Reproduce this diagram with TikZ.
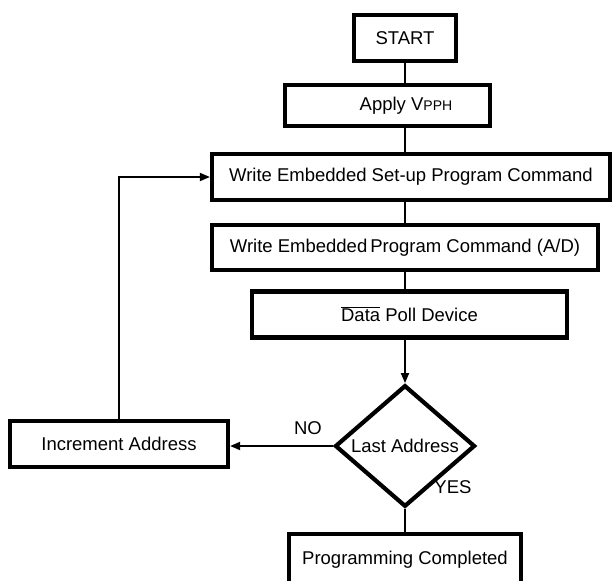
\documentclass[tikz,border=0pt]{standalone}
\usepackage{fontspec}
\setmainfont{Liberation Sans}
\usetikzlibrary{shapes.geometric,arrows.meta}
\begin{document}
\begin{tikzpicture}[x=1pt,y=-1pt,
  every node/.style={font=\fontsize{18.5}{21}\selectfont},
  stepbox/.style={draw,line width=4.2pt,rectangle,inner sep=0pt},
  decision/.style={draw,line width=4.2pt,diamond,inner sep=0pt,
    minimum width=140,minimum height=94},
  link/.style={line width=1.8pt},
  arr/.style={link,-{Triangle[length=10pt,width=8pt]}},
  tag/.style={inner sep=0pt}]
\useasboundingbox (0,0) rectangle (614,581);
\clip (0,0) rectangle (614,581);

% process boxes
\node[stepbox,minimum width=102,minimum height=46] (start) at (405,38) {START};
\node[stepbox,minimum width=205,minimum height=41] (apply) at (387.5,105.5) {};
\node[tag] (applytext) at (406,105.5) {Apply V{\fontsize{14}{16}\selectfont PPH}};
\node[stepbox,minimum width=398,minimum height=46] (setup) at (411,177)
  {Write Embedded Set-up Program Command};
\node[stepbox,minimum width=386,minimum height=45] (prog) at (405,247.5)
  {Write Embedded\,Program Command (A/D)};
\node[stepbox,minimum width=315,minimum height=46] (poll) at (409.5,314.5)
  {$\overline{\hbox{Data}}$ Poll Device};
\node[decision] (dec) at (405,446) {Last Address};
\node[stepbox,minimum width=218,minimum height=46] (inc) at (119,444)
  {Increment Address};
\node[stepbox,minimum width=232,minimum height=70] (done) at (405,569) {};
\node[tag] (donetext) at (405,560) {Programming Completed};

% labels on the decision branches
\node[tag] (no) at (308,428) {NO};
\node[tag] (yes) at (453,487) {YES};

% connectors down the main column
\draw[link] (start.south) -- (start.south |- apply.north);
\draw[link] (start.south |- apply.south) -- (start.south |- setup.north);
\draw[link] (start.south |- setup.south) -- (start.south |- prog.north);
\draw[link] (start.south |- prog.south) -- (start.south |- poll.north);
\draw[arr] (dec.north |- poll.south) -- (dec.north);
\draw[link] (dec.south) -- (done.north);
% the NO branch loops back to the set-up command
\draw[arr] (dec.west) -- (dec.west -| inc.east);
\draw[arr] (inc.north) |- (setup.west);
\end{tikzpicture}
\end{document}
